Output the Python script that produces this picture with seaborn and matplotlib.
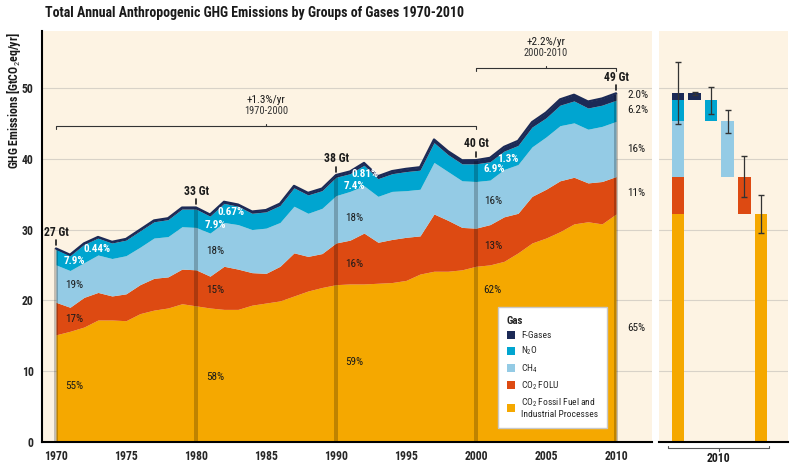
import matplotlib
matplotlib.use('Agg')
import matplotlib.pyplot as plt
from matplotlib.patches import Patch
import numpy as np
import pandas as pd
import seaborn as sns

# emissions by gas group, GtCO2eq/yr
years = list(range(1970, 2011))
co2_ff = [15.1, 15.6, 16.2, 17.2, 17.2, 17.1, 18.1, 18.6, 18.9, 19.5,
          19.2, 18.9, 18.7, 18.7, 19.3, 19.6, 19.9, 20.6, 21.3, 21.8,
          22.2, 22.3, 22.3, 22.4, 22.5, 22.8, 23.7, 24.1, 24.1, 24.3,
          24.8, 25.0, 25.5, 26.7, 28.1, 28.8, 29.7, 30.8, 31.1, 30.8, 32.2]
co2_folu = [4.6, 3.4, 4.2, 3.9, 3.4, 3.8, 4.1, 4.5, 4.4, 4.9,
            5.1, 4.5, 6.1, 5.7, 4.6, 4.2, 4.9, 6.1, 4.9, 4.8,
            5.9, 6.2, 7.2, 5.8, 6.1, 6.1, 5.4, 8.1, 7.2, 6.0,
            5.4, 5.7, 6.3, 5.6, 6.6, 6.9, 7.2, 6.6, 5.5, 6.0, 5.3]
ch4 = [5.3, 5.2, 4.9, 5.3, 5.3, 5.4, 5.3, 5.7, 5.7, 6.0,
       6.0, 6.1, 6.2, 6.3, 6.1, 6.4, 6.2, 6.6, 6.1, 6.4,
       6.7, 6.9, 6.7, 6.5, 6.8, 6.6, 6.6, 7.3, 6.9, 6.6,
       6.6, 6.3, 6.7, 6.9, 7.0, 7.4, 7.8, 7.7, 7.6, 7.8, 7.8]
n2o = [2.2, 2.1, 2.6, 2.4, 2.2, 2.2, 2.3, 2.3, 2.4, 2.5,
       2.6, 2.4, 2.7, 2.6, 2.3, 2.3, 2.4, 2.6, 2.6, 2.5,
       2.6, 2.5, 2.9, 2.5, 2.5, 2.7, 2.7, 2.8, 2.4, 2.4,
       2.5, 2.6, 2.6, 2.7, 2.8, 2.7, 2.9, 3.1, 3.0, 3.0, 3.0]
f_gases = [0.12, 0.13, 0.14, 0.15, 0.16, 0.17, 0.18, 0.19, 0.20, 0.21,
           0.22, 0.22, 0.23, 0.24, 0.25, 0.26, 0.27, 0.28, 0.29, 0.30,
           0.31, 0.32, 0.33, 0.35, 0.37, 0.39, 0.42, 0.45, 0.48, 0.50,
           0.52, 0.55, 0.60, 0.65, 0.70, 0.76, 0.82, 0.88, 0.92, 0.95, 0.98]

decades = [1970, 1980, 1990, 2000, 2010]
total_labels = ['27 Gt', '33 Gt', '38 Gt', '40 Gt', '49 Gt']
share_ff = ['55%', '58%', '59%', '62%', '65%']
share_folu = ['17%', '15%', '16%', '13%', '11%']
share_ch4 = ['19%', '18%', '18%', '16%', '16%']
share_n2o = ['7.9%', '7.9%', '7.4%', '6.9%', '6.2%']
share_f = ['0.44%', '0.67%', '0.81%', '1.3%', '2.0%']

# 2010 uncertainty (90% range half-widths)
err_total_2010 = 4.4
err_gas_2010 = [2.7, 2.9, 1.6, 1.9, 0.25]   # FF, FOLU, CH4, N2O, F-gases

gas_names = ['CO$_2$ Fossil Fuel and\nIndustrial Processes', 'CO$_2$ FOLU',
             'CH$_4$', 'N$_2$O', 'F-Gases']
gas_colors = ['#F5A800', '#DD4A12', '#94CBE5', '#00A5D0', '#1C2A56']

# where the share labels sit (layout only): x offset from the decade, y per gas
lab_dx = [[1.3, 1.3, 1.3, 1.3, 2.9], [1.4, 1.4, 1.4, 1.4, 2.5],
          [1.3, 1.3, 1.3, 1.3, 2.1], [1.2, 1.2, 1.2, 1.3, 2.3], [0.8] * 5]
lab_y = [[7.9, 17.3, 22.1, 25.6, 27.2], [9.2, 21.4, 27.0, 30.7, 32.5],
         [11.3, 25.1, 31.6, 36.2, 37.9], [21.4, 27.7, 34.0, 38.6, 40.0],
         [16.0, 35.2, 41.4, 46.9, 49.1]]

df = pd.DataFrame({'year': years, 'ff': co2_ff, 'folu': co2_folu,
                   'ch4': ch4, 'n2o': n2o, 'fg': f_gases})
cols = ['ff', 'folu', 'ch4', 'n2o', 'fg']
df['total'] = df[cols].sum(axis=1)

sns.set_style('white')
plt.rcParams['font.family'] = ['Roboto Condensed', 'Roboto', 'DejaVu Sans']
plt.rcParams['mathtext.fontset'] = 'custom'
plt.rcParams['mathtext.rm'] = 'Roboto Condensed'
plt.rcParams['mathtext.bf'] = 'Roboto Condensed:bold'

cream = '#FDF3E3'
grid = '#D8D2C8'
txt = '#1a1a1a'
fs = 8

fig = plt.figure(figsize=(8, 4.69), dpi=100)
ax = fig.add_axes([0.0525, 0.0586, 0.7625, 0.8753])
ax2 = fig.add_axes([0.82375, 0.0586, 0.16125, 0.8753])

# ---------------- main area chart ----------------
ax.set_facecolor(cream)
for g in range(10, 60, 10):
    ax.axhline(g, color=grid, lw=0.8, zorder=0)
ax.stackplot(df['year'], *[df[c] for c in cols], colors=gas_colors, lw=0, zorder=1)
sns.lineplot(data=df, x='year', y='total', ax=ax, color='#1C2A56', lw=1.6, zorder=3)

dec = df[df['year'].isin(decades)]
ax.bar(dec['year'], dec['total'], width=0.32, color='black', alpha=0.22, lw=0, zorder=2)

shares = [share_ff, share_folu, share_ch4, share_n2o, share_f]
for i, yr in enumerate(decades):
    tot = df.loc[df['year'] == yr, 'total'].iloc[0]
    ax.plot([yr, yr], [tot + 0.5, tot + 1.2], color=txt, lw=1.2, zorder=4)
    ax.text(yr, tot + 2.3, total_labels[i], ha='center', va='center',
            fontsize=8.5, fontweight='bold', color=txt)
    for k in range(5):
        if yr == 2010:
            ax.text(yr + lab_dx[i][k], lab_y[i][k], shares[k][i], ha='left', va='center',
                    fontsize=fs, color=txt)
        elif k >= 3:
            ax.text(yr + lab_dx[i][k], lab_y[i][k], shares[k][i], ha='center', va='center',
                    fontsize=fs, fontweight='bold', color='white', zorder=5)
        else:
            ax.text(yr + lab_dx[i][k], lab_y[i][k], shares[k][i], ha='center', va='center',
                    fontsize=fs, color=txt, zorder=5)

# growth-rate brackets
def bracket(a, x0, x1, y, top, bottom):
    a.plot([x0, x0, x1, x1], [y - 0.35, y, y, y - 0.35], color='#333333', lw=0.8)
    xm = (x0 + x1) / 2
    a.plot([xm, xm], [y, y + 0.3], color='#333333', lw=0.8)
    a.text(xm, y + 3.8, top, ha='center', va='center', fontsize=8, color=txt)
    a.text(xm, y + 2.2, bottom, ha='center', va='center', fontsize=7.5, color='#333333')

bracket(ax, 1970, 2000, 44.6, '+1.3%/yr', '1970-2000')
bracket(ax, 2000, 2010, 52.8, '+2.2%/yr', '2000-2010')

ax.set_xlim(1969.0, 2012.57)
ax.set_ylim(0, 58.1)
ax.set_xticks(range(1970, 2011, 5))
ax.set_yticks(range(0, 51, 10))
ax.tick_params(axis='x', length=3, width=1, direction='out', pad=3, labelsize=8.5, color=txt)
ax.tick_params(axis='y', length=0, pad=6, labelsize=8.5)
for lab in ax.get_xticklabels() + ax.get_yticklabels():
    lab.set_fontweight('bold')
ax.set_xlabel('')
ax.set_ylabel('')
for s in ['top', 'right']:
    ax.spines[s].set_visible(False)
for s in ['left', 'bottom']:
    ax.spines[s].set_linewidth(1.5)
    ax.spines[s].set_color('black')

fig.text(14 / 800, 1 - 32 / 469, 'GHG Emissions [GtCO$_2$eq/yr]', rotation=90,
         ha='center', va='top', fontsize=8.6, fontweight='bold', color=txt)

handles = [Patch(facecolor=gas_colors[k], edgecolor='none', label=gas_names[k]) for k in [4, 3, 2, 1, 0]]
leg = ax.legend(handles=handles, title='Gas', loc='lower left', bbox_to_anchor=(0.747, 0.032),
                borderaxespad=0, frameon=True, fancybox=False, facecolor='white',
                edgecolor='#c8c8c8', framealpha=1,
                fontsize=6.8, title_fontsize=7.8, handlelength=0.85, handleheight=0.9,
                labelspacing=0.5, borderpad=0.95, handletextpad=0.7, alignment='left')
leg.get_title().set_fontweight('bold')
leg.set_zorder(6)

# ---------------- 2010 waterfall panel ----------------
ax2.set_facecolor(cream)
for g in range(10, 60, 10):
    ax2.axhline(g, color=grid, lw=0.8, zorder=0)
last = df.iloc[-1]
vals = [last[c] for c in cols]
tops = np.cumsum(vals)
bottoms = tops - np.array(vals)
w = 0.76
for k in range(5):
    ax2.bar(0, vals[k], bottom=bottoms[k], width=w, color=gas_colors[k], lw=0, zorder=2)
ax2.errorbar(0, tops[-1], yerr=err_total_2010, color='#333333', lw=0.9, capsize=2.5, zorder=3)
for pos, k in enumerate([4, 3, 2, 1, 0], start=1):
    ax2.bar(pos, vals[k], bottom=bottoms[k], width=w, color=gas_colors[k], lw=0, zorder=2)
    ax2.errorbar(pos, tops[k], yerr=err_gas_2010[k], color='#333333', lw=0.9, capsize=2.5, zorder=3)

ax2.set_xlim(-1.14, 6.63)
ax2.set_ylim(0, 58.1)
ax2.set_xticks([])
ax2.set_yticks([])
for s in ['top', 'right', 'left']:
    ax2.spines[s].set_visible(False)
ax2.spines['bottom'].set_linewidth(1.5)
ax2.spines['bottom'].set_color('black')

# bracket under the 2010 panel
bx0, bx1 = -0.6, 5.5
xt = ax2.get_xaxis_transform()
ax2.plot([bx0, bx0, bx1, bx1], [-0.012, -0.017, -0.017, -0.012], color='#555555', lw=0.8,
         transform=xt, clip_on=False)
ax2.plot([(bx0 + bx1) / 2] * 2, [-0.017, -0.022], color='#555555', lw=0.8,
         transform=xt, clip_on=False)
ax2.text((bx0 + bx1) / 2, -0.042, '2010', ha='center', va='center', fontsize=8.5,
         fontweight='bold', color=txt, transform=xt)

fig.text(0.056, 0.972, 'Total Annual Anthropogenic GHG Emissions by Groups of Gases 1970-2010',
         ha='left', va='center', fontsize=10, fontweight='bold', color=txt)

fig.savefig('out.png', dpi=100)
